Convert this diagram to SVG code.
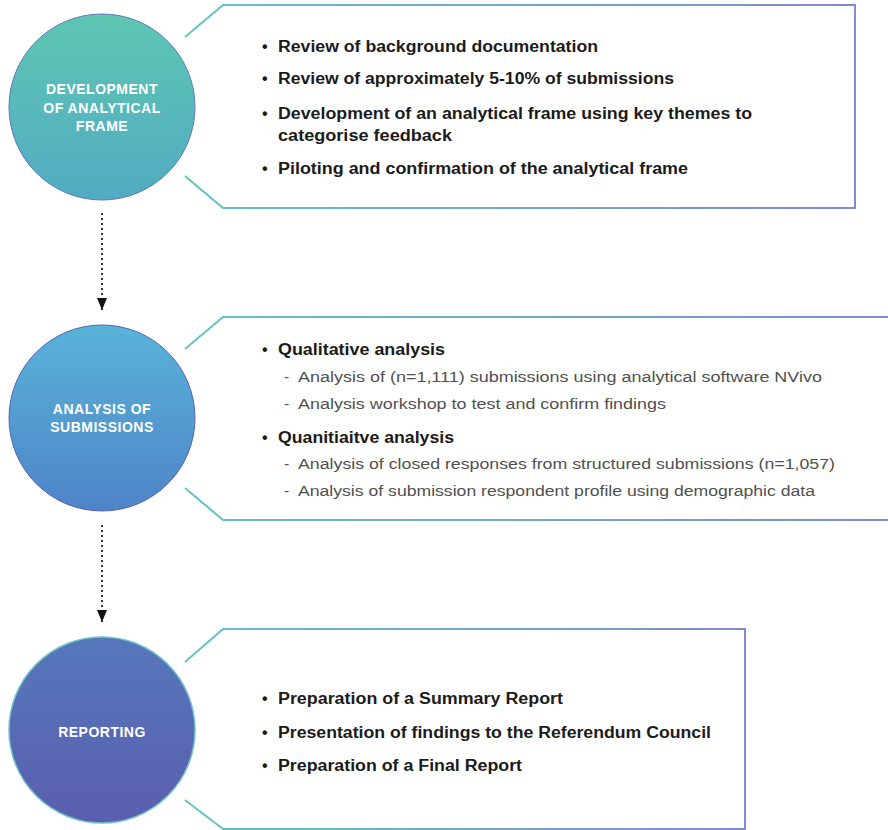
<svg xmlns="http://www.w3.org/2000/svg" width="888" height="830" viewBox="0 0 888 830">
<defs>
<linearGradient id="g1" x1="0" y1="0" x2="0" y2="1"><stop offset="0" stop-color="#5ec6b2"/><stop offset="1" stop-color="#52abc2"/></linearGradient>
<linearGradient id="g2" x1="0" y1="0" x2="0" y2="1"><stop offset="0" stop-color="#59b3d8"/><stop offset="1" stop-color="#4f84c8"/></linearGradient>
<linearGradient id="g3" x1="0" y1="0" x2="0" y2="1"><stop offset="0" stop-color="#5677bc"/><stop offset="1" stop-color="#5b5eae"/></linearGradient>
<linearGradient id="bs" x1="0" y1="0" x2="1" y2="0"><stop offset="0" stop-color="#63c4c4"/><stop offset="1" stop-color="#7f8ccd"/></linearGradient>
<marker id="ah" viewBox="0 0 12 10" refX="12" refY="5" markerWidth="12" markerHeight="10" markerUnits="userSpaceOnUse" orient="auto">
<path d="M0,0 L12,5 L0,10 Z" fill="#111"/>
</marker>
</defs>
<style>
.box{fill:#fff;stroke:url(#bs);stroke-width:2}
.ct{font-family:"Liberation Sans",Arial,sans-serif;font-weight:bold;font-size:14px;fill:#fff;text-anchor:middle;letter-spacing:0.5px}
.b{font-family:"Liberation Sans",Arial,sans-serif;font-weight:bold;font-size:16px;fill:#1b1b1b}
.s{font-family:"Liberation Sans",Arial,sans-serif;font-size:15.5px;fill:#505050}
.conn{stroke:#333;stroke-width:2;stroke-dasharray:2 3;fill:none}
</style>
<rect width="888" height="830" fill="#fff"/>

<g id="connectors">
<path class="conn" d="M102,213 L102,310" marker-end="url(#ah)"/>
<path class="conn" d="M102,525 L102,622" marker-end="url(#ah)"/>
</g>

<g id="node1">
<path class="box" d="M185,37 L223,5 L855,5 L855,208 L223,208 L185,176"/>
<circle cx="102" cy="107" r="93" fill="url(#g1)" stroke="#5b79bd" stroke-width="1"/>
<text class="ct" x="102" y="94">DEVELOPMENT</text>
<text class="ct" x="102" y="113">OF ANALYTICAL</text>
<text class="ct" x="102" y="131">FRAME</text>
<text class="b" x="262" y="52">•</text>
<text class="b" x="278" y="52" textLength="320" lengthAdjust="spacingAndGlyphs">Review of background documentation</text>
<text class="b" x="262" y="84">•</text>
<text class="b" x="278" y="84" textLength="396" lengthAdjust="spacingAndGlyphs">Review of approximately 5-10% of submissions</text>
<text class="b" x="262" y="119">•</text>
<text class="b" x="278" y="119" textLength="474" lengthAdjust="spacingAndGlyphs">Development of an analytical frame using key themes to</text>
<text class="b" x="278" y="141" textLength="174" lengthAdjust="spacingAndGlyphs">categorise feedback</text>
<text class="b" x="262" y="174">•</text>
<text class="b" x="278" y="174" textLength="410" lengthAdjust="spacingAndGlyphs">Piloting and confirmation of the analytical frame</text>
</g>

<g id="node2">
<path class="box" d="M185,349 L223,317 L890,317 M890,520 L223,520 L185,488"/>
<circle cx="102" cy="418" r="93" fill="url(#g2)" stroke="#5563b3" stroke-width="1"/>
<text class="ct" x="102" y="414">ANALYSIS OF</text>
<text class="ct" x="102" y="432">SUBMISSIONS</text>
<text class="b" x="262" y="355">•</text>
<text class="b" x="278" y="355" textLength="167" lengthAdjust="spacingAndGlyphs">Qualitative analysis</text>
<text class="s" x="284" y="382">-</text>
<text class="s" x="298" y="382" textLength="524" lengthAdjust="spacingAndGlyphs">Analysis of (n=1,111) submissions using analytical software NVivo</text>
<text class="s" x="284" y="409">-</text>
<text class="s" x="298" y="409" textLength="368" lengthAdjust="spacingAndGlyphs">Analysis workshop to test and confirm findings</text>
<text class="b" x="262" y="443">•</text>
<text class="b" x="278" y="443" textLength="176" lengthAdjust="spacingAndGlyphs">Quanitiaitve analysis</text>
<text class="s" x="284" y="469">-</text>
<text class="s" x="298" y="469" textLength="537" lengthAdjust="spacingAndGlyphs">Analysis of closed responses from structured submissions (n=1,057)</text>
<text class="s" x="284" y="496">-</text>
<text class="s" x="298" y="496" textLength="517" lengthAdjust="spacingAndGlyphs">Analysis of submission respondent profile using demographic data</text>
</g>

<g id="node3">
<path class="box" d="M185,662 L223,629 L745,629 L745,829 L223,829 L185,800"/>
<circle cx="102" cy="730" r="93" fill="url(#g3)" stroke="#6cc3c6" stroke-width="1.5"/>
<text class="ct" x="102" y="737">REPORTING</text>
<text class="b" x="262" y="704">•</text>
<text class="b" x="278" y="704" textLength="285" lengthAdjust="spacingAndGlyphs">Preparation of a Summary Report</text>
<text class="b" x="262" y="738">•</text>
<text class="b" x="278" y="738" textLength="433" lengthAdjust="spacingAndGlyphs">Presentation of findings to the Referendum Council</text>
<text class="b" x="262" y="771">•</text>
<text class="b" x="278" y="771" textLength="244" lengthAdjust="spacingAndGlyphs">Preparation of a Final Report</text>
</g>
</svg>
